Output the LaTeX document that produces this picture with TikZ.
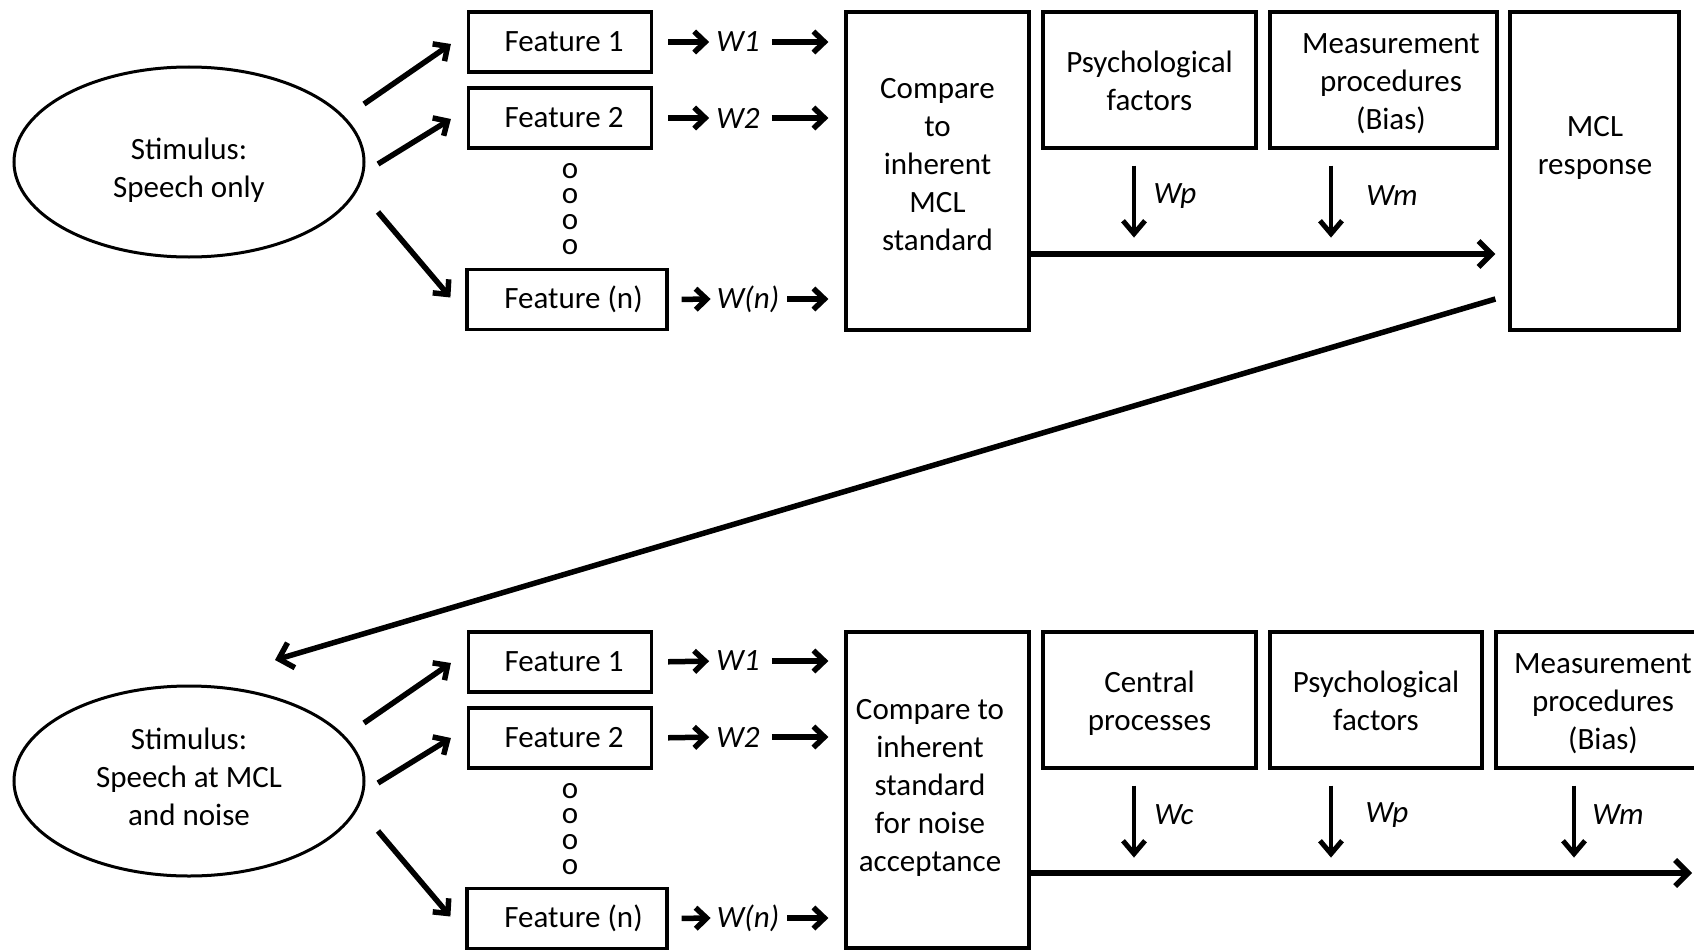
\documentclass[tikz,border=0pt]{standalone}
\usepackage{fontspec}
\setmainfont{Carlito}
\usetikzlibrary{arrows.meta,shapes.geometric}
\begin{document}
\begin{tikzpicture}[x=1pt,y=-1pt,
  every node/.style={font=\fontsize{31}{38}\selectfont, inner sep=0pt},
  box/.style={draw, rectangle, line width=3.2pt, align=center},
  txt/.style={align=center},
  stim/.style={draw, ellipse, line width=3pt,
               minimum width=350pt, minimum height=190pt},
  wlab/.style={font=\fontsize{31}{38}\selectfont\itshape},
  feat/.style={box, minimum width=183pt, minimum height=60pt},
  featn/.style={box, minimum width=200pt, minimum height=60pt},
  arr/.style={line width=5.5pt,
              -{Straight Barb[length=11pt,width=21pt,line width=5.5pt]}},
  downarr/.style={line width=4.5pt,
              -{Straight Barb[length=13pt,width=22pt,line width=5pt]}},
  bigarr/.style={line width=5.5pt,
              -{Straight Barb[length=13pt,width=26pt,line width=5.5pt]}}]
\useasboundingbox (0,0) rectangle (1694,950);
\clip (0,0) rectangle (1694,950);

% ---------------- upper chain: speech only ----------------
\node[stim] (s1) at (189,162) {};
\node[txt] (s1t) at (189,170) {Stimulus:\\Speech only};
\node[feat]  (f11) at (560,42)    {\hspace*{8pt}Feature 1};
\node[feat]  (f12) at (560,118)   {\hspace*{8pt}Feature 2};
\node[featn] (f1n) at (567,299.5) {\hspace*{13pt}Feature (n)};
\node[align=center, font=\fontsize{31}{25.3}\selectfont] (d1) at (570,209) {o\\o\\o\\o};

\node[wlab] (w11) at (738,42)  {W1};
\node[wlab] (w12) at (738,118) {W2};
\node[wlab] (w1n) at (748,299) {W(n)};

\node[box, minimum width=183pt, minimum height=318pt] (c1) at (937.5,171) {};
\node[txt] (c1t) at (937.5,165) {Compare\\to\\inherent\\MCL\\standard};
\node[box, minimum width=213pt, minimum height=136pt] (p1) at (1149.5,80) {};
\node[txt] (p1t) at (1149.5,80.5) {Psychological\\factors};
\node[box, minimum width=227pt, minimum height=136pt] (m1) at (1383.5,80) {};
\node[txt] (m1t) at (1391,84) {Measurement\\procedures\\(Bias)};
\node[box, minimum width=169pt, minimum height=318pt] (r1) at (1594.5,171) {};
\node[txt] (r1t) at (1595,148) {MCL\\response};

\node[wlab] (wp1) at (1175,196) {Wp};
\node[wlab] (wm1) at (1392,196) {Wm};

% stimulus to features
\draw[arr] ([shift={(175pt,58pt)}]s1.center) -- ([shift={(-16pt,-2pt)}]f11.west);
\draw[arr] ([shift={(189pt,-2pt)}]s1.center) -- ([shift={(-16pt,-1pt)}]f12.west);
\draw[arr] ([shift={(189pt,-50pt)}]s1.center) -- ([shift={(-15pt,2pt)}]f1n.west);

% features to weights to comparison
\foreach \f/\w in {f11/w11,f12/w12}{
  \draw[arr, shorten <=15pt, shorten >=7pt] (\f.east) -- (\w.west);
  \draw[arr, shorten <=12pt, shorten >=16pt] (\w.east) -- (c1.west |- \w.east);
}
\draw[arr, shorten <=13pt, shorten >=6pt] (f1n.east) -- (w1n.west);
\draw[arr, shorten <=8pt, shorten >=16pt] (w1n.east) -- (c1.west |- w1n.east);

% weighting factors
\draw[downarr] ([shift={(-15.5pt,-16pt)}]p1.south) -- ++(0,72);
\draw[downarr] ([shift={(-52.5pt,-16pt)}]m1.south) -- ++(0,72);
\draw[bigarr] ([yshift=-83pt]c1.east) -- ([shift={(-13pt,-83pt)}]r1.west);

% response feeds the second stimulus
\node[stim] (s2) at (189,781) {};
\node[txt] (s2t) at (189,777) {Stimulus:\\Speech at MCL\\and noise};
\draw[bigarr] ([shift={(-13pt,-128pt)}]r1.west) -- ([shift={(86pt,121pt)}]s2.center);

% ---------------- lower chain: speech at MCL and noise ----------------
\node[feat]  (f21) at (560,662)   {\hspace*{8pt}Feature 1};
\node[feat]  (f22) at (560,738)   {\hspace*{8pt}Feature 2};
\node[featn] (f2n) at (567,918.5) {\hspace*{13pt}Feature (n)};
\node[align=center, font=\fontsize{31}{25.3}\selectfont] (d2) at (570,829) {o\\o\\o\\o};

\node[wlab] (w21) at (738,661) {W1};
\node[wlab] (w22) at (738,737) {W2};
\node[wlab] (w2n) at (748,918) {W(n)};

\node[box, minimum width=183pt, minimum height=316pt] (c2) at (937.5,790) {};
\node[txt] (c2t) at (930,788)
  {Compare to\\inherent\\standard\\for noise\\acceptance};
\node[box, minimum width=213pt, minimum height=136pt] (cp2) at (1149.5,700) {};
\node[txt] (cp2t) at (1149.5,703) {Central\\processes};
\node[box, minimum width=212pt, minimum height=136pt] (p2) at (1376,700) {};
\node[txt] (p2t) at (1376,701) {Psychological\\factors};
\node[box, minimum width=212pt, minimum height=136pt] (m2) at (1602,700) {};
\node[txt] (m2t) at (1603,704) {Measurement\\procedures\\(Bias)};

\node[wlab] (wc2) at (1174,815) {Wc};
\node[wlab] (wp2) at (1387,815) {Wp};
\node[wlab] (wm2) at (1618,815) {Wm};

\draw[arr] ([shift={(175pt,58pt)}]s2.center) -- ([shift={(-16pt,-1pt)}]f21.west);
\draw[arr] ([shift={(189pt,-2pt)}]s2.center) -- ([shift={(-16pt,0pt)}]f22.west);
\draw[arr] ([shift={(189pt,-50pt)}]s2.center) -- ([shift={(-15pt,2pt)}]f2n.west);

\foreach \f/\w in {f21/w21,f22/w22}{
  \draw[arr, shorten <=15pt, shorten >=7pt] (\f.east) -- (\w.west);
  \draw[arr, shorten <=12pt, shorten >=16pt] (\w.east) -- (c2.west |- \w.east);
}
\draw[arr, shorten <=13pt, shorten >=6pt] (f2n.east) -- (w2n.west);
\draw[arr, shorten <=8pt, shorten >=16pt] (w2n.east) -- (c2.west |- w2n.east);

\draw[downarr] ([shift={(-15.5pt,-16pt)}]cp2.south) -- ++(0,72);
\draw[downarr] ([shift={(-45pt,-16pt)}]p2.south) -- ++(0,72);
\draw[downarr] ([shift={(-28pt,-16pt)}]m2.south) -- ++(0,72);

\coordinate (out) at (1692,873);
\draw[bigarr] ([yshift=-83pt]c2.east) -- (out);
\end{tikzpicture}
\end{document}
